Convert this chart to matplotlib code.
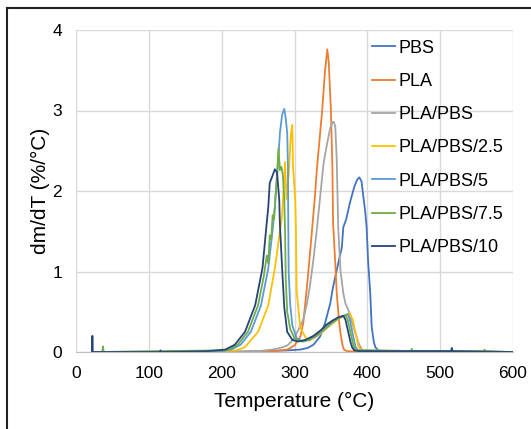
import matplotlib.pyplot as plt
from matplotlib.lines import Line2D

plt.rcParams['font.family'] = ['Liberation Sans', 'DejaVu Sans']

# PBS
t_pbs = [22, 100, 200, 260, 290, 308, 318, 326, 335, 342, 349, 353, 360, 365, 367, 371,
         376, 382, 386, 389, 392, 394, 397, 399, 401, 404, 406, 409, 411, 415, 420, 600]
y_pbs = [0, 0, 0, 0.01, 0.02, 0.03, 0.05, 0.09, 0.19, 0.36, 0.6, 0.81, 1.1, 1.3, 1.55, 1.65,
         1.85, 2.05, 2.14, 2.17, 2.12, 1.97, 1.75, 1.55, 1.14, 0.73, 0.31, 0.12, 0.06, 0.02, 0.01, 0]

# PLA
t_pla = [22, 200, 270, 290, 300, 308, 312, 317, 322, 328, 331, 338, 342, 345, 347,
         350, 352, 353, 356, 358, 361, 363, 366, 368, 372, 400, 600]
y_pla = [0, 0, 0.01, 0.03, 0.08, 0.19, 0.36, 0.8, 1.3, 1.93, 2.3, 3.0, 3.5, 3.76, 3.6,
         3.0, 2.3, 1.6, 1.1, 0.73, 0.4, 0.24, 0.08, 0.03, 0.01, 0, 0]

# PLA/PBS
t_blend = [22, 200, 250, 270, 280, 290, 298, 305, 312, 317, 321, 326, 331, 336, 340, 345,
           349, 352, 354, 356, 358, 360, 363, 367, 370, 374, 381, 388, 393, 400, 600]
y_blend = [0, 0, 0.01, 0.03, 0.05, 0.08, 0.15, 0.27, 0.4, 0.6, 0.81, 1.15, 1.55, 2.0, 2.35, 2.6,
           2.78, 2.85, 2.86, 2.8, 2.39, 1.55, 1.02, 0.73, 0.6, 0.52, 0.31, 0.11, 0.02, 0.01, 0]

# PLA/PBS/2.5
t_25 = [22, 200, 220, 232, 250, 264, 273, 280, 283, 287, 289, 292, 295, 297, 298, 301,
        302, 303, 308, 317, 320, 330, 340, 350, 360, 370, 376, 380, 383, 388, 392, 600]
y_25 = [0, 0.01, 0.02, 0.06, 0.25, 0.58, 1.04, 1.5, 1.7, 2.36, 1.9, 2.2, 2.7, 2.82, 2.3, 1.89,
        1.5, 0.75, 0.3, 0.15, 0.14, 0.19, 0.26, 0.34, 0.41, 0.46, 0.48, 0.4, 0.27, 0.06, 0.02, 0]

# PLA/PBS/5
t_5 = [22, 200, 213, 226, 240, 254, 264, 270, 273, 277, 280, 283, 286, 288, 290, 291,
       291.5, 292, 294, 297, 303, 312, 320, 330, 340, 350, 360, 373, 376, 380, 384, 387, 600]
y_5 = [0, 0.01, 0.03, 0.09, 0.25, 0.58, 1.04, 1.52, 1.8, 2.3, 2.72, 2.95, 3.02, 2.9, 2.72, 2.3,
       1.52, 1.0, 0.6, 0.33, 0.17, 0.13, 0.15, 0.2, 0.27, 0.35, 0.42, 0.47, 0.4, 0.22, 0.06, 0.02, 0]

# PLA/PBS/7.5
t_75 = [22, 36, 37, 38, 200, 210, 222, 236, 250, 258, 262, 264, 266, 268, 270, 272, 274, 276,
        278, 280, 282, 284, 286, 287, 288, 290, 294, 300, 310, 320, 330, 340, 350, 360, 370,
        373, 377, 381, 384, 460, 461, 462, 560, 561, 562, 600]
y_75 = [0, 0, 0.07, 0, 0.02, 0.03, 0.09, 0.25, 0.58, 0.95, 1.2, 1.1, 1.45, 1.4, 1.7, 1.65, 1.95, 2.2,
        2.53, 2.26, 2.3, 2.2, 1.9, 1.5, 0.9, 0.5, 0.29, 0.17, 0.13, 0.16, 0.21, 0.28, 0.36, 0.42, 0.46,
        0.4, 0.24, 0.08, 0.02, 0.01, 0.04, 0.01, 0.01, 0.03, 0.01, 0]

# PLA/PBS/10
t_10 = [22, 22.5, 23, 100, 115, 116, 117, 180, 205, 218, 232, 246, 256, 261, 264, 266, 269,
        273, 276, 279, 280, 283, 286, 290, 297, 305, 315, 326, 336, 344, 352, 360, 367, 370,
        374, 377, 379, 382, 390, 515, 516, 517, 600]
y_10 = [0, 0.2, 0, 0, 0, 0.02, 0, 0.01, 0.03, 0.09, 0.25, 0.58, 1.04, 1.52, 1.8, 2.1, 2.17,
        2.27, 2.23, 1.9, 1.58, 1.04, 0.55, 0.25, 0.15, 0.13, 0.15, 0.2, 0.27, 0.34, 0.39, 0.43, 0.45, 0.4,
        0.24, 0.12, 0.06, 0.02, 0.01, 0.01, 0.05, 0.01, 0]

labels = ["PBS", "PLA", "PLA/PBS", "PLA/PBS/2.5", "PLA/PBS/5", "PLA/PBS/7.5", "PLA/PBS/10"]
colors = ["#4472C4", "#ED7D31", "#A5A5A5", "#FFC000", "#5B9BD5", "#70AD47", "#264478"]
series = [(t_pbs, y_pbs), (t_pla, y_pla), (t_blend, y_blend), (t_25, y_25),
          (t_5, y_5), (t_75, y_75), (t_10, y_10)]

fig = plt.figure(figsize=(5.31, 4.29), dpi=100)
ax = fig.add_axes([76 / 531, 1 - 352 / 429, 437 / 531, 322 / 429])

for (t, y), lab, c in zip(series, labels, colors):
    ax.plot(t, y, color=c, lw=1.3, label=lab)

ax.set_xlim(0, 600)
ax.set_ylim(0, 4)
ax.set_xticks(range(0, 601, 100))
ax.set_yticks(range(0, 5))
ax.grid(True, color="#D9D9D9", lw=1)
ax.set_axisbelow(True)
for s in ["top", "right", "left"]:
    ax.spines[s].set_visible(False)
ax.spines["bottom"].set_color("#BFBFBF")
ax.tick_params(length=0, labelsize=12.5)
ax.tick_params(axis="x", pad=10)
ax.tick_params(axis="y", pad=10)

ax.set_xlabel("Temperature (°C)", fontsize=15, labelpad=8)
ax.set_ylabel("dm/dT (%/°C)", fontsize=15, labelpad=2)

ax.legend(loc="upper left", bbox_to_anchor=(0.677, 0.97), frameon=False, fontsize=13,
          borderpad=0, borderaxespad=0, handlelength=1.3, handletextpad=0.2, labelspacing=0.9)

# outer frame (top and left edges)
fig.add_artist(Line2D([7 / 531, 1], [1 - 8 / 429, 1 - 8 / 429], color="#222222", lw=1.5))
fig.add_artist(Line2D([7 / 531, 7 / 531], [0, 1 - 8 / 429], color="#222222", lw=1.5))

fig.savefig("out.png", dpi=100)
